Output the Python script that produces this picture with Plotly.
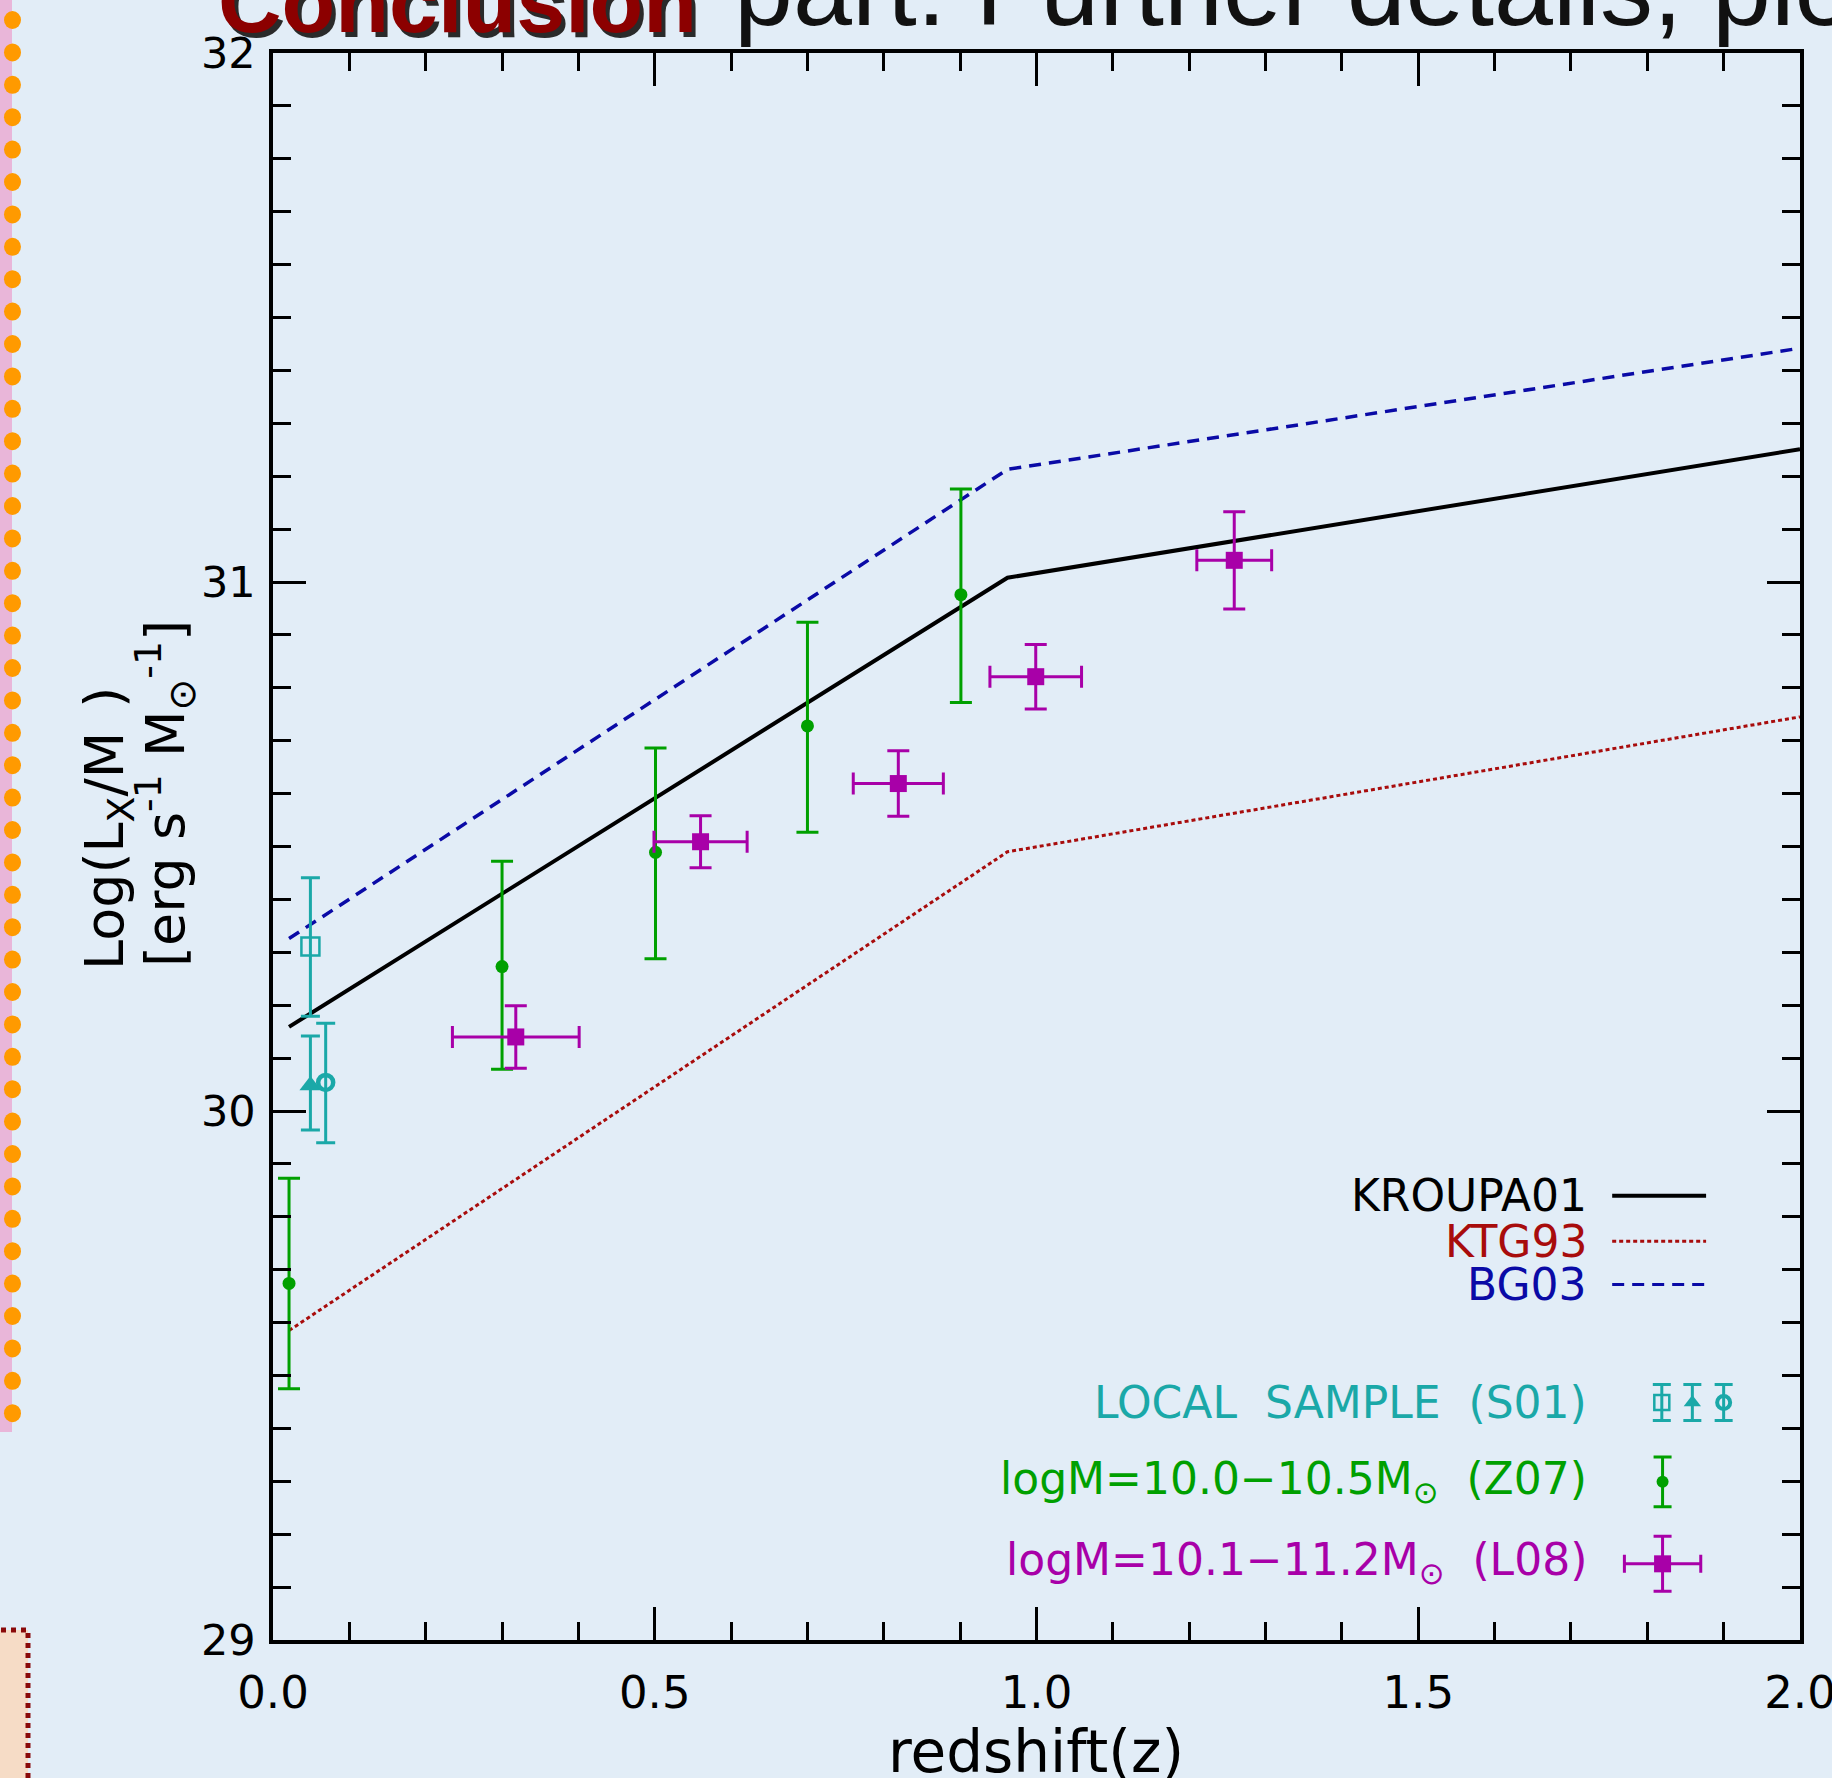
import plotly.graph_objects as go

# ---------------- data ----------------
z_model = [0.021, 0.962, 2.0]
kroupa01 = [30.159, 31.008, 31.251]
ktg93 = [29.585, 30.490, 30.745]
bg03 = [30.326, 31.213, 31.442]

z07_z = [0.021, 0.300, 0.501, 0.700, 0.901]
z07_y = [29.674, 30.273, 30.489, 30.728, 30.976]
z07_ep = [0.199, 0.199, 0.197, 0.196, 0.200]
z07_em = [0.199, 0.194, 0.201, 0.201, 0.204]

l08_z = [0.318, 0.560, 0.819, 0.999, 1.259]
l08_y = [30.140, 30.509, 30.619, 30.821, 31.041]
l08_zerr = [0.083, 0.061, 0.059, 0.060, 0.049]
l08_yerr = [0.059, 0.049, 0.062, 0.061, 0.092]

s01_sq_z, s01_sq_y, s01_sq_ep, s01_sq_em = [0.049], [30.311], [0.130], [0.132]
s01_tr_z, s01_tr_y, s01_tr_ep, s01_tr_em = [0.049], [30.048], [0.094], [0.084]
s01_ci_z, s01_ci_y, s01_ci_ep, s01_ci_em = [0.069], [30.054], [0.112], [0.114]

x_ticks = [0.0, 0.5, 1.0, 1.5, 2.0]
y_ticks = [29, 30, 31, 32]

# ---------------- style / layout constants ----------------
W, H = 1832, 1778
ML, MR, MT, MB = 273, 32, 53, 138
PW, PH = W - ML - MR, H - MT - MB
BG = "#e2edf7"
FONT = "DejaVu Sans"
C_BLACK, C_RED, C_BLUE = "#000000", "#a80c0c", "#0a0aa6"
C_CYAN, C_GREEN, C_MAG = "#1aa8a8", "#00a000", "#a800a8"


def px(X):
    return (X - ML) / PW


def py(Y):
    return (H - MB - Y) / PH


fig = go.Figure()

# model lines
fig.add_trace(go.Scatter(x=z_model, y=kroupa01, mode="lines",
                         line=dict(color=C_BLACK, width=4), showlegend=False))
fig.add_trace(go.Scatter(x=z_model, y=ktg93, mode="lines",
                         line=dict(color=C_RED, width=3, dash="4px,3px"), showlegend=False))
fig.add_trace(go.Scatter(x=z_model, y=bg03, mode="lines",
                         line=dict(color=C_BLUE, width=3.5, dash="12px,8px"), showlegend=False))

# Z07 points
fig.add_trace(go.Scatter(
    x=z07_z, y=z07_y, mode="markers",
    marker=dict(symbol="circle", size=13, color=C_GREEN),
    error_y=dict(type="data", symmetric=False, array=z07_ep, arrayminus=z07_em,
                 color=C_GREEN, thickness=3, width=11),
    showlegend=False))

# L08 points
fig.add_trace(go.Scatter(
    x=l08_z, y=l08_y, mode="markers",
    marker=dict(symbol="square", size=17, color=C_MAG),
    error_y=dict(type="data", array=l08_yerr, color=C_MAG, thickness=3, width=11),
    error_x=dict(type="data", array=l08_zerr, color=C_MAG, thickness=3, width=11),
    showlegend=False))

# S01 local sample
for zz, yy, ep, em, sym, size, lw in [
    (s01_sq_z, s01_sq_y, s01_sq_ep, s01_sq_em, "square-open", 18, 2.5),
    (s01_tr_z, s01_tr_y, s01_tr_ep, s01_tr_em, "triangle-up", 19, 0),
    (s01_ci_z, s01_ci_y, s01_ci_ep, s01_ci_em, "circle-open", 15, 4.5),
]:
    fig.add_trace(go.Scatter(
        x=zz, y=yy, mode="markers",
        marker=dict(symbol=sym, size=size, color=C_CYAN, line=dict(color=C_CYAN, width=lw)),
        error_y=dict(type="data", symmetric=False, array=ep, arrayminus=em,
                     color=C_CYAN, thickness=3, width=9.5),
        showlegend=False))

# ---------------- legend (drawn inside plot) ----------------
LEG_TEXT_X = 1.724
leg_line_x = [1.754, 1.877]
leg_rows = [
    ("KROUPA01", C_BLACK, 29.840, dict(color=C_BLACK, width=4)),
    ("KTG93", C_RED, 29.754, dict(color=C_RED, width=3, dash="4px,3px")),
    ("BG03", C_BLUE, 29.672, dict(color=C_BLUE, width=3, dash="12px,8px")),
]
for txt, col, yy, ln in leg_rows:
    fig.add_trace(go.Scatter(x=leg_line_x, y=[yy, yy], mode="lines", line=ln, showlegend=False))
    fig.add_annotation(x=LEG_TEXT_X, y=yy, xref="x", yref="y", text=txt, showarrow=False,
                       xanchor="right", yanchor="middle",
                       font=dict(family=FONT, size=44, color=col))

sym_rows = [
    ("LOCAL\u00a0\u00a0SAMPLE\u00a0\u00a0(S01)", C_CYAN, 29.449),
    ("logM=10.0\u221210.5M<sub>\u2299</sub>\u00a0\u00a0(Z07)", C_GREEN, 29.299),
    ("logM=10.1\u221211.2M<sub>\u2299</sub>\u00a0\u00a0(L08)", C_MAG, 29.147),
]
for txt, col, yy in sym_rows:
    fig.add_annotation(x=LEG_TEXT_X, y=yy, xref="x", yref="y", text=txt, showarrow=False,
                       xanchor="right", yanchor="middle",
                       font=dict(family=FONT, size=44, color=col))

# legend keys
for kz, sym, size, lw in [(1.819, "square-open", 15, 2.5), (1.859, "triangle-up", 15, 0),
                          (1.900, "circle-open", 13, 4)]:
    fig.add_trace(go.Scatter(
        x=[kz], y=[29.449], mode="markers",
        marker=dict(symbol=sym, size=size, color=C_CYAN, line=dict(color=C_CYAN, width=lw)),
        error_y=dict(type="constant", value=0.034, color=C_CYAN, thickness=3, width=9),
        showlegend=False))
fig.add_trace(go.Scatter(
    x=[1.820], y=[29.299], mode="markers",
    marker=dict(symbol="circle", size=12, color=C_GREEN),
    error_y=dict(type="constant", value=0.047, color=C_GREEN, thickness=3, width=9),
    showlegend=False))
fig.add_trace(go.Scatter(
    x=[1.820], y=[29.144], mode="markers",
    marker=dict(symbol="square", size=17, color=C_MAG),
    error_y=dict(type="constant", value=0.052, color=C_MAG, thickness=3, width=9),
    error_x=dict(type="constant", value=0.05, color=C_MAG, thickness=3, width=9),
    showlegend=False))

# ---------------- axis titles ----------------
fig.add_annotation(xref="paper", yref="paper", x=px(1036), y=py(1752),
                   text="redshift(z)", showarrow=False, xanchor="center", yanchor="middle",
                   font=dict(family=FONT, size=58, color="black"))
fig.add_annotation(xref="paper", yref="paper", x=px(108), y=py(829), textangle=-90,
                   text="Log(L<sub>X</sub>/M<sub>\u00a0\u00a0</sub>)", showarrow=False,
                   xanchor="center", yanchor="middle",
                   font=dict(family=FONT, size=54, color="black"))
fig.add_annotation(xref="paper", yref="paper", x=px(165), y=py(794), textangle=-90,
                   text="[erg s<sup>-1</sup> M<sub>\u2299</sub><sup>-1</sup>]", showarrow=False,
                   xanchor="center", yanchor="middle",
                   font=dict(family=FONT, size=54, color="black"))

# ---------------- slide decoration ----------------
shapes = []
shapes.append(dict(type="rect", xref="paper", yref="paper", x0=px(-5), x1=px(12),
                   y0=py(1432), y1=py(-5), fillcolor="#e9b6d9", line=dict(width=0), layer="below"))
for k in range(44):
    cy = 20 + 32.4 * k
    shapes.append(dict(type="circle", xref="paper", yref="paper",
                       x0=px(4), x1=px(21), y0=py(cy + 9), y1=py(cy - 9),
                       fillcolor="#ff9a00", line=dict(width=0)))
shapes.append(dict(type="rect", xref="paper", yref="paper", x0=px(-10), x1=px(28),
                   y0=py(1800), y1=py(1630), fillcolor="#f6dcc6",
                   line=dict(color="#8a0a0a", width=5, dash="dot")))

# partial slide title at top
fig.add_annotation(xref="paper", yref="paper", x=px(220), y=py(6), text="<b>Conclusion</b>",
                   showarrow=False, xanchor="left", yanchor="middle",
                   font=dict(family="Liberation Sans", size=88, color="#2a2a2a"))
fig.add_annotation(xref="paper", yref="paper", x=px(216), y=py(2), text="<b>Conclusion</b>",
                   showarrow=False, xanchor="left", yanchor="middle",
                   font=dict(family="Liberation Sans", size=88, color="#8c0000"))
fig.add_annotation(xref="paper", yref="paper", x=px(732), y=py(-12),
                   text="part: Further details, please",
                   showarrow=False, xanchor="left", yanchor="middle",
                   font=dict(family="Liberation Sans", size=106, color="#111111"))

axis_common = dict(
    showgrid=False, zeroline=False, showline=True, linecolor="black", linewidth=3.5,
    mirror="ticks", ticks="inside", ticklen=33, tickwidth=3, tickcolor="black",
    ticklabeloverflow="allow",
)
fig.update_xaxes(range=[0, 2], tickvals=x_ticks, ticktext=[f"{v:.1f}" for v in x_ticks],
                 ticklabelstandoff=10, tickfont=dict(family=FONT, size=45, color="black"),
                 minor=dict(dtick=0.1, ticks="inside", ticklen=18, tickwidth=3, tickcolor="black",
                            tick0=0, showgrid=False),
                 **axis_common)
fig.update_yaxes(range=[29, 32], tickvals=y_ticks, ticktext=[str(v) for v in y_ticks],
                 ticklabelstandoff=5, tickfont=dict(family=FONT, size=43, color="black"),
                 minor=dict(dtick=0.1, ticks="inside", ticklen=18, tickwidth=3, tickcolor="black",
                            tick0=29, showgrid=False),
                 **axis_common)

fig.update_layout(
    width=W, height=H,
    margin=dict(l=ML, r=MR, t=MT, b=MB, autoexpand=False),
    paper_bgcolor=BG, plot_bgcolor=BG,
    shapes=shapes, showlegend=False,
    font=dict(family=FONT),
)

fig.write_html("out.html", config={"displayModeBar": False},
               post_script="document.body.style.margin='0';document.body.style.background='%s';" % BG)
